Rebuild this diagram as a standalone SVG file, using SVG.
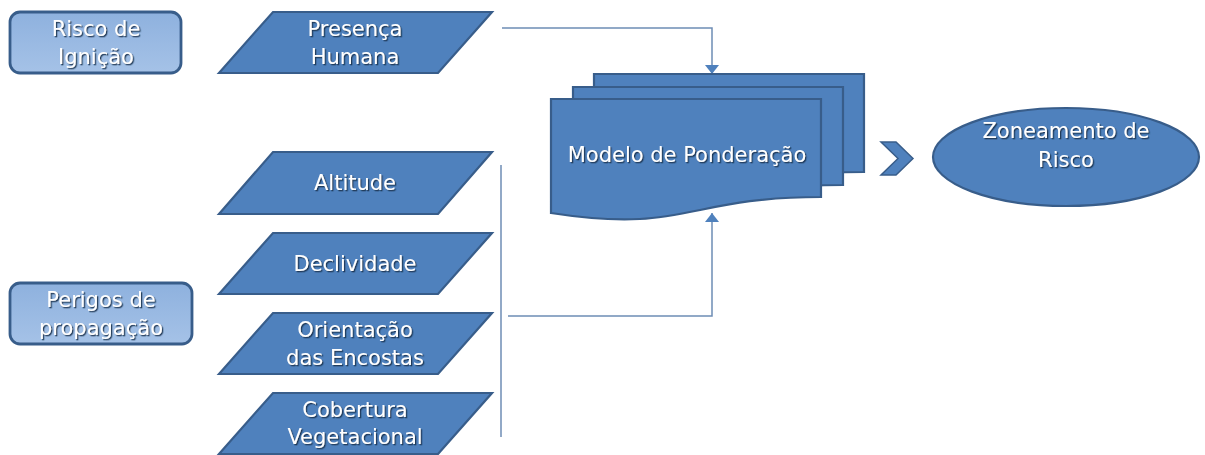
<svg xmlns="http://www.w3.org/2000/svg" width="1205" height="455" viewBox="0 0 1205 455">
  <defs>
    <linearGradient id="lightFill" x1="0" y1="0" x2="0" y2="1">
      <stop offset="0" stop-color="#8eb1de"/>
      <stop offset="1" stop-color="#a5c2e7"/>
    </linearGradient>
    <filter id="shadow" x="-10%" y="-30%" width="120%" height="160%">
      <feDropShadow dx="1.3" dy="1.3" stdDeviation="0.7" flood-color="#17304d" flood-opacity="0.9"/>
    </filter>
    <marker id="arrow" viewBox="0 0 9 14" refX="9" refY="7" markerWidth="9" markerHeight="14" markerUnits="userSpaceOnUse" orient="auto">
      <path d="M0,0 L9,7 L0,14 Z" fill="#4f81bd"/>
    </marker>
  </defs>
  <style>
    .box { fill: url(#lightFill); stroke: #385d8a; stroke-width: 2.8; }
    .para { fill: #4f81bd; stroke: #385d8a; stroke-width: 2.2; }
    .doc { fill: #4f81bd; stroke: #385d8a; stroke-width: 2.2; }
    .ell { fill: #4f81bd; stroke: #385d8a; stroke-width: 2.2; }
    .lbl { font-family: "DejaVu Sans", "Liberation Sans", sans-serif; font-size: 21px; fill: #ffffff; text-anchor: middle; filter: url(#shadow); }
    .conn { fill: none; stroke: #6e8db5; stroke-width: 1.5; }
  </style>
  <rect width="1205" height="455" fill="#ffffff"/>

  <g id="connectors">
    <path class="conn" d="M502,28 H712 V74" marker-end="url(#arrow)"/>
    <path class="conn" d="M501,165 V437"/>
    <path class="conn" d="M508,316 H712 V213" marker-end="url(#arrow)"/>
  </g>

  <g id="risco-ignicao">
    <rect class="box" x="10" y="12" width="171" height="61" rx="10"/>
    <text class="lbl" x="96" y="35.5">Risco de</text>
    <text class="lbl" x="96" y="63.5">Ignição</text>
  </g>

  <g id="perigos-propagacao">
    <rect class="box" x="10" y="283" width="182" height="61" rx="10"/>
    <text class="lbl" x="101" y="306.5">Perigos de</text>
    <text class="lbl" x="101" y="334.5">propagação</text>
  </g>

  <g id="presenca-humana">
    <polygon class="para" points="219,73 273,12 492,12 438,73"/>
    <text class="lbl" x="355" y="35.5">Presença</text>
    <text class="lbl" x="355" y="63.5">Humana</text>
  </g>

  <g id="altitude">
    <polygon class="para" points="219,214 273,152 492,152 438,214"/>
    <text class="lbl" x="355" y="190">Altitude</text>
  </g>

  <g id="declividade">
    <polygon class="para" points="219,294 273,233 492,233 438,294"/>
    <text class="lbl" x="355" y="270.5">Declividade</text>
  </g>

  <g id="orientacao-encostas">
    <polygon class="para" points="219,374 273,313 492,313 438,374"/>
    <text class="lbl" x="355" y="336.5">Orientação</text>
    <text class="lbl" x="355" y="364.5">das Encostas</text>
  </g>

  <g id="cobertura-vegetacional">
    <polygon class="para" points="219,454 273,393 492,393 438,454"/>
    <text class="lbl" x="355" y="416.5">Cobertura</text>
    <text class="lbl" x="355" y="444">Vegetacional</text>
  </g>

  <g id="modelo-ponderacao">
    <path class="doc" transform="translate(43,-25)" d="M551,99 H821 V197 C686,197 686,234 551,213 Z"/>
    <path class="doc" transform="translate(22,-12)" d="M551,99 H821 V197 C686,197 686,234 551,213 Z"/>
    <path class="doc" d="M551,99 H821 V197 C686,197 686,234 551,213 Z"/>
    <text class="lbl" x="687" y="162">Modelo de Ponderação</text>
  </g>

  <g id="chevron">
    <polygon points="881,142 896,142 913,158.5 896,175 881,175 898,158.5" fill="#4f81bd" stroke="#385d8a" stroke-width="1.5"/>
  </g>

  <g id="zoneamento-risco">
    <ellipse class="ell" cx="1066" cy="157" rx="133" ry="49"/>
    <text class="lbl" x="1066" y="138">Zoneamento de</text>
    <text class="lbl" x="1066" y="167">Risco</text>
  </g>
</svg>
